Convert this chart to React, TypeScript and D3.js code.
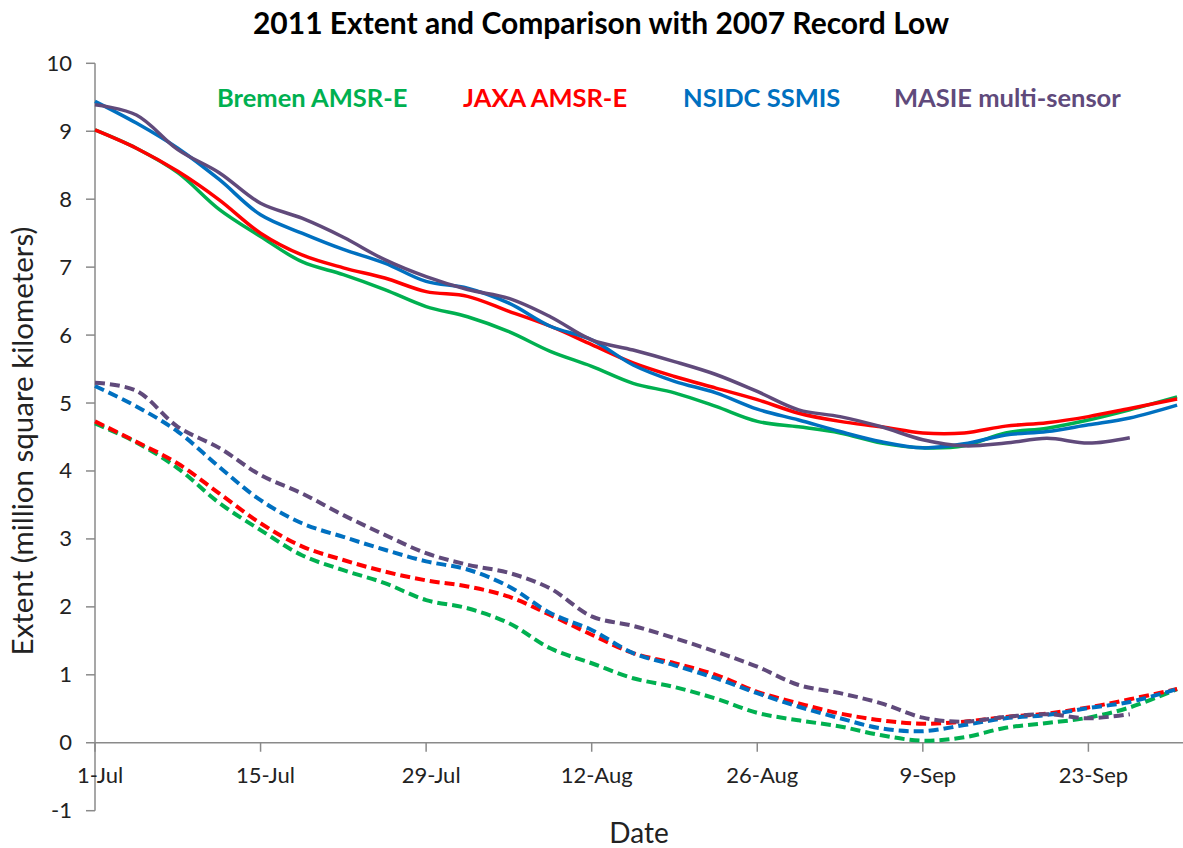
import React from "react";
import * as d3 from "d3";

// Day offsets from 1-Jul-2011
const days = [0, 3.5, 7, 10.5, 14, 17.5, 21, 24.5, 28, 31.5, 35, 38.5, 42, 45.5, 49, 52.5, 56, 59.5, 63, 66.5, 70, 73.5, 77, 80.5, 84, 87.5, 91.5];

// 2011 extent (solid)
const bremen2011 = [9.02, 8.75, 8.39, 7.85, 7.45, 7.08, 6.89, 6.67, 6.42, 6.27, 6.05, 5.76, 5.54, 5.29, 5.15, 4.95, 4.73, 4.65, 4.56, 4.41, 4.34, 4.37, 4.56, 4.63, 4.75, 4.9, 5.09];
const jaxa2011 = [9.02, 8.75, 8.41, 7.99, 7.5, 7.18, 6.99, 6.84, 6.64, 6.57, 6.35, 6.13, 5.86, 5.59, 5.39, 5.22, 5.05, 4.85, 4.73, 4.65, 4.56, 4.56, 4.66, 4.71, 4.8, 4.92, 5.06];
const nsidc2011 = [9.44, 9.12, 8.75, 8.29, 7.77, 7.5, 7.26, 7.06, 6.79, 6.69, 6.47, 6.13, 5.93, 5.56, 5.32, 5.15, 4.91, 4.75, 4.58, 4.43, 4.34, 4.4, 4.53, 4.58, 4.68, 4.78, 4.97];
const masie2011 = [9.39, 9.24, 8.73, 8.39, 7.94, 7.72, 7.44, 7.11, 6.86, 6.67, 6.54, 6.27, 5.93, 5.78, 5.61, 5.42, 5.17, 4.9, 4.8, 4.65, 4.46, 4.37, 4.41, 4.48, 4.41, 4.49, null];

// 2007 record low (dashed)
const bremen2007 = [4.7, 4.42, 4.04, 3.53, 3.13, 2.76, 2.54, 2.35, 2.1, 1.98, 1.76, 1.39, 1.17, 0.95, 0.82, 0.65, 0.44, 0.33, 0.24, 0.11, 0.03, 0.08, 0.22, 0.29, 0.37, 0.52, 0.79];
const jaxa2007 = [4.73, 4.43, 4.11, 3.67, 3.23, 2.89, 2.69, 2.52, 2.39, 2.3, 2.15, 1.88, 1.59, 1.32, 1.17, 1.0, 0.75, 0.58, 0.43, 0.33, 0.28, 0.31, 0.38, 0.43, 0.52, 0.64, 0.79];
const nsidc2007 = [5.25, 4.95, 4.58, 4.06, 3.57, 3.23, 3.03, 2.84, 2.67, 2.55, 2.3, 1.91, 1.66, 1.32, 1.14, 0.95, 0.73, 0.53, 0.36, 0.21, 0.17, 0.26, 0.36, 0.41, 0.51, 0.6, 0.79];
const masie2007 = [5.3, 5.18, 4.65, 4.34, 3.94, 3.67, 3.35, 3.06, 2.79, 2.62, 2.5, 2.27, 1.86, 1.72, 1.54, 1.34, 1.12, 0.85, 0.73, 0.58, 0.37, 0.31, 0.38, 0.42, 0.36, 0.42, null];

const seriesNames = ["Bremen AMSR-E", "JAXA AMSR-E", "NSIDC SSMIS", "MASIE multi-sensor"];
const seriesColors = ["#00B050", "#FF0000", "#0070C0", "#604A7B"];
const solidSeries = [bremen2011, jaxa2011, nsidc2011, masie2011];
const dashedSeries = [bremen2007, jaxa2007, nsidc2007, masie2007];

const xTickDays = [0, 14, 28, 42, 56, 70, 84];
const xTickLabels = ["1-Jul", "15-Jul", "29-Jul", "12-Aug", "26-Aug", "9-Sep", "23-Sep"];
const yTicks = [-1, 0, 1, 2, 3, 4, 5, 6, 7, 8, 9, 10];

const legendX = [217, 463, 683, 894];

const W = 1183;
const H = 848;
const FONT = "Lato, 'Open Sans', sans-serif";

export default function App() {
  const x = d3.scaleLinear().domain([0, 92]).range([95, 1183]);
  const y = d3.scaleLinear().domain([-1, 10]).range([810.7, 63.3]);

  const line = d3
    .line<[number, number | null]>()
    .defined((d) => d[1] !== null)
    .x((d) => x(d[0]))
    .y((d) => y(d[1] as number))
    .curve(d3.curveCatmullRom.alpha(0.5));

  const mk = (vals: (number | null)[]) => line(days.map((d, i) => [d, vals[i]] as [number, number | null])) || "";

  const axisColor = "#8a8a8a";

  return (
    <svg width={W} height={H} style={{ position: "absolute", left: 0, top: 0, background: "#fff" }} fontFamily={FONT}>
      <rect width={W} height={H} fill="#fff" />
      {/* Title */}
      <text x={601} y={34} textAnchor="middle" fontSize={30} fontWeight="bold" fill="#000">
        2011 Extent and Comparison with 2007 Record Low
      </text>

      {/* Y axis */}
      <line x1={x(0)} x2={x(0)} y1={y(10)} y2={y(-1)} stroke={axisColor} strokeWidth={1.5} />
      {yTicks.map((t) => (
        <g key={t}>
          <line x1={x(0) - 9} x2={x(0)} y1={y(t)} y2={y(t)} stroke={axisColor} strokeWidth={1.5} />
          <text x={72} y={y(t) + 7.5} textAnchor="end" fontSize={22} fill="#222">
            {t}
          </text>
        </g>
      ))}

      {/* X axis at y = 0 */}
      <line x1={x(0)} x2={x(92)} y1={y(0)} y2={y(0)} stroke={axisColor} strokeWidth={1.5} />
      {xTickDays.map((d, i) => (
        <g key={d}>
          <line x1={x(d)} x2={x(d)} y1={y(0)} y2={y(0) + 9} stroke={axisColor} strokeWidth={1.5} />
          <text x={x(d) + 5} y={783} textAnchor="middle" fontSize={22} fill="#222">
            {xTickLabels[i]}
          </text>
        </g>
      ))}

      {/* Axis titles */}
      <text x={639} y={843} textAnchor="middle" fontSize={28} fill="#222">
        Date
      </text>
      <text transform="translate(33,441) rotate(-90)" textAnchor="middle" fontSize={29.5} fill="#222">
        Extent (million square kilometers)
      </text>

      {/* Dashed 2007 lines */}
      {dashedSeries.map((s, i) => (
        <path key={"d" + i} d={mk(s)} fill="none" stroke={seriesColors[i]} strokeWidth={4} strokeDasharray="10 5" />
      ))}
      {/* Solid 2011 lines */}
      {solidSeries.map((s, i) => (
        <path key={"s" + i} d={mk(s)} fill="none" stroke={seriesColors[i]} strokeWidth={3.5} strokeLinejoin="round" />
      ))}

      {/* Legend labels */}
      {seriesNames.map((n, i) => (
        <text key={n} x={legendX[i]} y={107} fontSize={25.5} fontWeight="bold" fill={seriesColors[i]}>
          {n}
        </text>
      ))}
    </svg>
  );
}
